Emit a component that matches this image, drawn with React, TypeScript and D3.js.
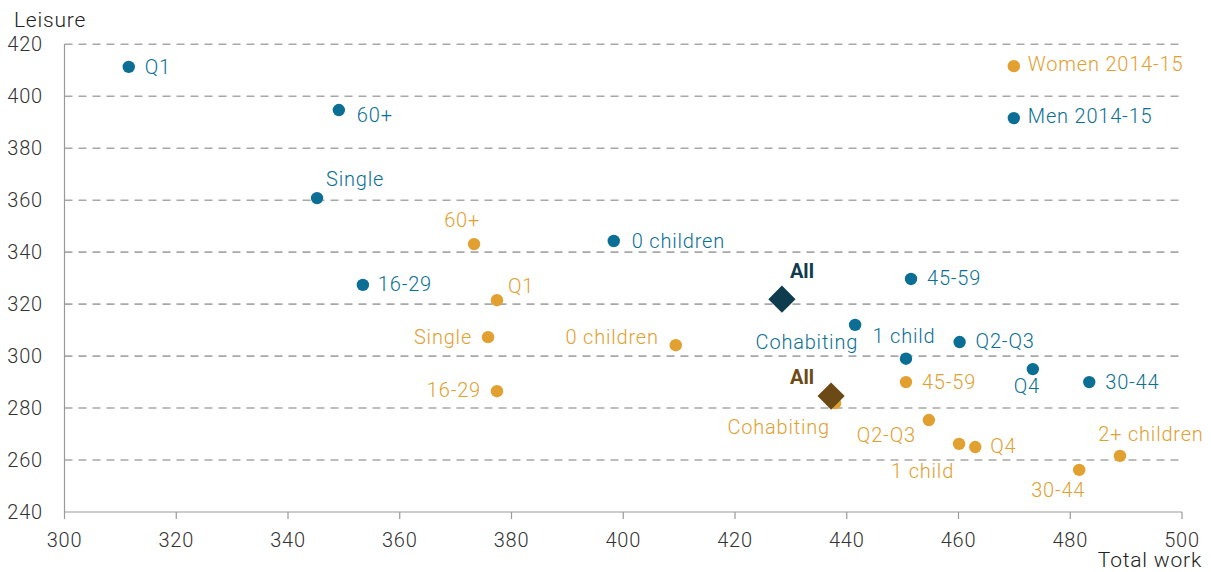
import React from "react";
import * as d3 from "d3";

const W = 1211;
const H = 572;

// Data (Total work, Leisure)
const menNames = ["Q1", "60+", "Single", "0 children", "16-29", "45-59", "Cohabiting", "1 child", "Q2-Q3", "Q4", "30-44", "Men 2014-15"];
const menWork = [311.5, 349.1, 345.2, 398.3, 353.4, 451.5, 441.5, 450.6, 460.2, 473.3, 483.4, 469.9];
const menLeisure = [411.3, 394.7, 360.8, 344.3, 327.4, 329.7, 312.0, 299.0, 305.4, 295.0, 290.0, 391.6];
const menAll = [428.4, 321.9];

const womenNames = ["Women 2014-15", "60+", "Q1", "Single", "0 children", "16-29", "45-59", "Cohabiting", "Q2-Q3", "1 child", "Q4", "30-44", "2+ children"];
const womenWork = [469.9, 373.3, 377.4, 375.8, 409.4, 377.4, 450.6, 437.9, 454.7, 460.1, 463.0, 481.6, 488.9];
const womenLeisure = [411.6, 343.1, 321.5, 307.3, 304.2, 286.5, 290.0, 281.9, 275.4, 266.2, 265.0, 256.2, 261.6];
const womenAll = [437.2, 284.6];

const xTicks = [300, 320, 340, 360, 380, 400, 420, 440, 460, 480, 500];
const yTicks = [240, 260, 280, 300, 320, 340, 360, 380, 400, 420];

// Label placement (layout only): [dx, dy, anchor]
type Place = [number, number, string];
const menPlace: Record<string, Place> = {
  "Q1": [16, 0, "start"],
  "60+": [18, 5, "start"],
  "Single": [9, -19, "start"],
  "0 children": [18, 0, "start"],
  "16-29": [15, -1, "start"],
  "45-59": [16, -1, "start"],
  "Cohabiting": [3, 17, "end"],
  "1 child": [-2, -23, "middle"],
  "Q2-Q3": [16, -1, "start"],
  "Q4": [-6, 17, "middle"],
  "30-44": [16, 0, "start"],
  "Men 2014-15": [14, -2, "start"],
};
const womenPlace: Record<string, Place> = {
  "Women 2014-15": [14, -2, "start"],
  "60+": [6, -24, "end"],
  "Q1": [11, -14, "start"],
  "Single": [-16, 0, "end"],
  "0 children": [-17, -8, "end"],
  "16-29": [-16, -1, "end"],
  "45-59": [16, 0, "start"],
  "Cohabiting": [-5, 24, "end"],
  "Q2-Q3": [-13, 15, "end"],
  "1 child": [-5, 27, "end"],
  "Q4": [15, -1, "start"],
  "30-44": [-21, 20, "middle"],
  "2+ children": [31, -22, "middle"],
};

const MEN = "#0b6f95";
const WOMEN = "#e1a030";
const MEN_ALL = "#0f3b4f";
const WOMEN_ALL = "#6c4a15";
const FONT = "Roboto, 'Open Sans', sans-serif";
const FS = 20;
const LS = 0.8;

export default function App() {
  const x = d3.scaleLinear().domain([300, 500]).range([64.5, 1182]);
  const y = d3.scaleLinear().domain([240, 420]).range([512, 44.3]);
  const diamond = d3.symbol().type(d3.symbolSquare).size(370)();

  const renderPoints = (names: string[], xs: number[], ys: number[], place: Record<string, Place>, color: string) =>
    names.map((n, i) => {
      const px = x(xs[i]);
      const py = y(ys[i]);
      const [dx, dy, anchor] = place[n];
      return (
        <g key={n + color}>
          <circle cx={px} cy={py} r={6.2} fill={color} />
          <text x={px + dx} y={py + dy} dy="0.35em" textAnchor={anchor} fill={color} fontSize={FS} fontWeight={300} letterSpacing={LS}>
            {n}
          </text>
        </g>
      );
    });

  return (
    <svg width={W} height={H} style={{ position: "absolute", left: 0, top: 0, background: "#fff" }} fontFamily={FONT}>
      {/* gridlines */}
      {yTicks.filter((t) => t !== 240).map((t) => (
        <line key={"g" + t} x1={x(300)} x2={x(500)} y1={y(t)} y2={y(t)} stroke="#a8a8a8" strokeWidth={1.6} strokeDasharray="8,6" />
      ))}
      {/* axes */}
      <line x1={x(300)} x2={x(300)} y1={y(420)} y2={y(240)} stroke="#999" strokeWidth={1.2} />
      <line x1={x(300)} x2={x(500)} y1={y(240)} y2={y(240)} stroke="#999" strokeWidth={1.2} />
      {xTicks.map((t) => (
        <g key={"x" + t}>
          <line x1={x(t)} x2={x(t)} y1={y(240)} y2={y(240) + 7} stroke="#999" strokeWidth={1.2} />
          <text x={x(t)} y={547} textAnchor="middle" fontSize={FS} fontWeight={300} fill="#333" letterSpacing={LS}>
            {t}
          </text>
        </g>
      ))}
      {yTicks.map((t) => (
        <text key={"y" + t} x={43} y={y(t)} dy="0.35em" textAnchor="end" fontSize={FS} fontWeight={300} fill="#333" letterSpacing={LS}>
          {t}
        </text>
      ))}
      <text x={14} y={27} fontSize={21} fontWeight={300} fill="#222" letterSpacing={LS}>Leisure</text>
      <text x={1202} y={567} textAnchor="end" fontSize={21} fontWeight={300} fill="#222" letterSpacing={LS}>Total work</text>

      {renderPoints(womenNames, womenWork, womenLeisure, womenPlace, WOMEN)}
      {renderPoints(menNames, menWork, menLeisure, menPlace, MEN)}

      <path d={diamond!} transform={`translate(${x(menAll[0])},${y(menAll[1])}) rotate(45)`} fill={MEN_ALL} />
      <text x={x(menAll[0]) + 8} y={y(menAll[1]) - 28} dy="0.35em" fontSize={FS} fontWeight={700} fill={MEN_ALL}>All</text>
      <path d={diamond!} transform={`translate(${x(womenAll[0])},${y(womenAll[1])}) rotate(45)`} fill={WOMEN_ALL} />
      <text x={x(womenAll[0]) - 41} y={y(womenAll[1]) - 19} dy="0.35em" fontSize={FS} fontWeight={700} fill={WOMEN_ALL}>All</text>
    </svg>
  );
}
